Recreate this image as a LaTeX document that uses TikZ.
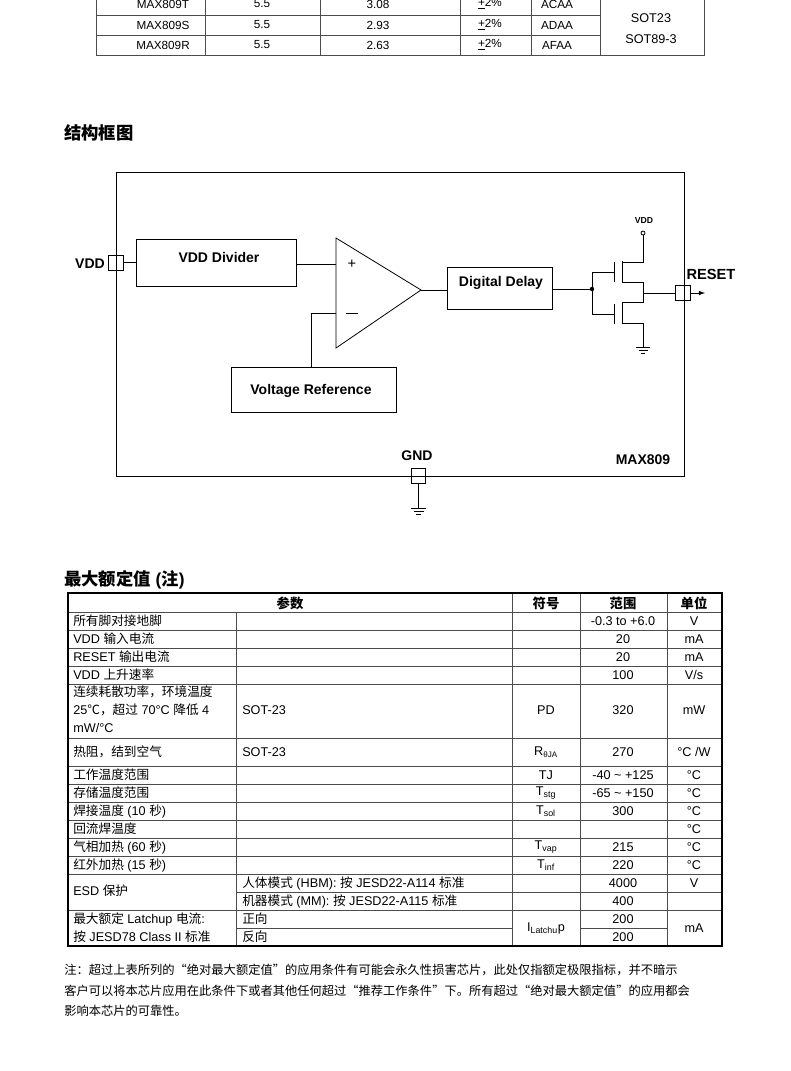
\documentclass[tikz,border=0pt]{standalone}
\usepackage{fontspec}
\setmainfont{Liberation Sans}
\newfontfamily\cjk{Noto Sans CJK SC}
\newcommand\C[1]{{\cjk #1}}
\begin{document}
\begin{tikzpicture}[x=0.75pt,y=-0.75pt,
  tl/.style={font=\fontsize{9.5}{11}\selectfont,inner sep=0pt},
  bl/.style={font=\fontsize{10.5}{12}\selectfont\bfseries,inner sep=0pt},
  blk/.style={draw,line width=0.6pt},
  grid/.style={draw=black!70,line width=0.5pt},
  wire/.style={line width=0.6pt}]
\useasboundingbox (0,0) rectangle (790,1071);
% ---------- top table ----------
\draw[grid] (96,0) -- (96,55) -- (704,55) -- (704,0);
\foreach \x in {205,320,460,531,600} \draw[grid] (\x,0) -- (\x,55);
\draw[grid] (96,15) -- (600,15); \draw[grid] (96,35) -- (600,35);
\foreach \y/\a/\b/\c in {4/MAX809T/3.08/ACAA,25/MAX809S/2.93/ADAA,45/MAX809R/2.63/AFAA}{
  \node[tl,font=\fontsize{8.8}{10}\selectfont] at (163,\y) {\a};
  \node[tl,font=\fontsize{8.8}{10}\selectfont] at (262,\y) {5.5};
  \node[tl,font=\fontsize{8.8}{10}\selectfont] at (378,\y) {\b};
  \node[tl,font=\fontsize{8.8}{10}\selectfont] at (490,\y) {\underline{+}2\%};
  \node[tl,font=\fontsize{8.8}{10}\selectfont] at (557,\y) {\c};}
\node[tl,font=\fontsize{9.5}{11}\selectfont] at (651,18) {SOT23};
\node[tl,font=\fontsize{9.5}{11}\selectfont] at (651,39) {SOT89-3};
% ---------- block diagram ----------
\node[anchor=west,inner sep=0pt,font=\fontsize{13}{15}\selectfont\cjk\bfseries] at (64,133) {结构框图};
\draw[blk] (116,172) rectangle (684,476);
\node[blk,minimum width=11.25pt,minimum height=11.25pt,inner sep=0pt] (vddpin) at (115.5,262.5) {};
\node[bl,anchor=east] at (105,264) {VDD};
\node[blk,minimum width=120pt,minimum height=35pt,anchor=north west,inner sep=0pt] (div) at (136,239) {};
\node[bl] at (219,257) {VDD Divider};
\node[blk,minimum width=124pt,minimum height=34pt,anchor=north west,inner sep=0pt] (vref) at (231,367) {};
\node[bl] at (311,391) {Voltage Reference};
\node[blk,minimum width=79pt,minimum height=31.5pt,anchor=north west,inner sep=0pt] (dly) at (447,267) {};
\node[bl] at (501,283) {Digital Delay};
\draw[blk] (336,238) -- (421,290) -- (336,348) -- cycle;
\coordinate (ip) at (336,264); \coordinate (im) at (336,313); \coordinate (oo) at (421,290);
\node[font=\fontsize{11}{12}\selectfont] at (352,264) {+};
\draw[wire] (346,313) -- (358,313);
\draw[wire] (vddpin.east) -- (div.west |- vddpin.east);
\draw[wire] (div.east |- ip) -- (ip);
\draw[wire] (im) -- (311,313) -- (311,367);
\draw[wire] (oo) -- (dly.west |- oo);
\coordinate (j) at (592,289);
\draw[wire] (dly.east |- j) -- (j);
\fill (j) circle (2.2);
% inverter
\draw[wire] (592,272) -- (592,314);
\draw[wire] (592,272) -- (614,272); \draw[wire] (592,314) -- (614,314);
\draw[wire] (614,262) -- (614,282); \draw[wire] (614,304) -- (614,324);
\draw[wire] (622,261) -- (622,282); \draw[wire] (622,302) -- (622,324);
\draw[wire] (622,262) -- (643,262) -- (643,235);
\draw[wire] (643,233) circle (2);
\node[inner sep=0pt,font=\fontsize{6.5}{7}\selectfont\bfseries] at (644,221) {VDD};
\draw[wire] (622,282) -- (643,282) -- (643,302) -- (622,302);
\draw[wire] (622,323) -- (643,323) -- (643,347);
\draw[wire] (636,347) -- (650,347) (638.5,350) -- (647.5,350) (641,353) -- (645,353);
\node[blk,minimum width=11pt,minimum height=11pt,inner sep=0pt] (rpin) at (683,293) {};
\draw[wire] (643,293) -- (rpin.west);
\draw[wire,-latex] (rpin.east) -- (705,293);
\node[bl,font=\fontsize{11}{13}\selectfont\bfseries] at (711,274) {RESET};
\node[bl] at (417,456) {GND};
\node[bl] at (643,460) {MAX809};
\node[blk,minimum width=11pt,minimum height=11pt,inner sep=0pt] (gpin) at (418.5,476) {};
\draw[wire] (gpin.south) -- (418.5,508);
\draw[wire] (411,508) -- (426,508) (413.5,511) -- (423.5,511) (416,514) -- (421,514);
% ---------- ratings table ----------
\node[anchor=west,inner sep=0pt,font=\fontsize{13}{15}\selectfont\bfseries] at (64,580) {\C{最大额定值} (\C{注})};
\foreach \y in {612,630,648,666,684,738,766,784,802,820,838,856,874,910} \draw[grid] (68,\y) -- (722,\y);
\draw[grid] (236,892) -- (722,892);
\draw[grid] (236,928) -- (512,928); \draw[grid] (580,928) -- (667,928);
\draw[grid] (236,612) -- (236,946);
\foreach \x in {512,580,667} \draw[grid] (\x,593) -- (\x,946);
\draw[line width=1pt] (68,593) rectangle (722,946);
\node[tl,font=\fontsize{10}{12}\selectfont\cjk\bfseries] at (290,603) {参数};
\node[tl,font=\fontsize{10}{12}\selectfont\cjk\bfseries] at (546,603) {符号};
\node[tl,font=\fontsize{10}{12}\selectfont\cjk\bfseries] at (623,603) {范围};
\node[tl,font=\fontsize{10}{12}\selectfont\cjk\bfseries] at (694,603) {单位};
\foreach \y/\t/\s/\r/\u in {
 621/\C{所有脚对接地脚}//-0.3 to +6.0/V,
 639/VDD \C{输入电流}//20/mA,
 657/RESET \C{输出电流}//20/mA,
 675/VDD \C{上升速率}//100/{V/s},
 752/\C{热阻，结到空气}/R\textsubscript{\fontsize{6}{7}\selectfont θJA}/270/{°C /W},
 775/\C{工作温度范围}/TJ/-40 \textasciitilde{} +125/°C,
 793/\C{存储温度范围}/T\textsubscript{stg}/-65 \textasciitilde{} +150/°C,
 811/\C{焊接温度} (10 \C{秒})/T\textsubscript{sol}/300/°C,
 829/\C{回流焊温度}///°C,
 847/\C{气相加热} (60 \C{秒})/T\textsubscript{vap}/215/°C,
 865/\C{红外加热} (15 \C{秒})/T\textsubscript{inf}/220/°C}{
  \node[tl,anchor=west] at (73,\y) {\t};
  \node[tl] at (546,\y) {\s};
  \node[tl] at (623,\y) {\r};
  \node[tl] at (694,\y) {\u};}
\node[tl,anchor=west] at (73,692) {\C{连续耗散功率，环境温度}};
\node[tl,anchor=west] at (73,710) {25\C{℃，超过} 70°C \C{降低} 4};
\node[tl,anchor=west] at (73,728) {mW/°C};
\node[tl,anchor=west] at (242,710) {SOT-23};
\node[tl] at (546,710) {PD}; \node[tl] at (623,710) {320}; \node[tl] at (694,710) {mW};
\node[tl,anchor=west] at (242,752) {SOT-23};
\node[tl,anchor=west] at (73,891) {ESD \C{保护}};
\node[tl,anchor=west] at (242,883) {\C{人体模式} (HBM): \C{按} JESD22-A114 \C{标准}};
\node[tl,anchor=west] at (242,901) {\C{机器模式} (MM): \C{按}\ JESD22-A115 \C{标准}};
\node[tl] at (623,883) {4000}; \node[tl] at (694,883) {V};
\node[tl] at (623,901) {400};
\node[tl,anchor=west] at (73,919) {\C{最大额定} Latchup \C{电流}:};
\node[tl,anchor=west] at (73,937) {\C{按} JESD78 Class II \C{标准}};
\node[tl,anchor=west] at (242,919) {\C{正向}};
\node[tl,anchor=west] at (242,937) {\C{反向}};
\node[tl] at (546,928) {I\textsubscript{Latchu}p};
\node[tl] at (623,919) {200}; \node[tl] at (623,937) {200};
\node[tl] at (694,928) {mA};
% ---------- note ----------
\foreach \y/\t in {
 970/注：超过上表所列的“绝对最大额定值”的应用条件有可能会永久性损害芯片，此处仅指额定极限指标，并不暗示,
 991/客户可以将本芯片应用在此条件下或者其他任何超过“推荐工作条件”下。所有超过“绝对最大额定值”的应用都会,
 1011/影响本芯片的可靠性。}
  \node[anchor=west,inner sep=0pt,font=\fontsize{9.2}{11}\selectfont\cjk] at (64,\y) {\t};
\end{tikzpicture}
\end{document}
